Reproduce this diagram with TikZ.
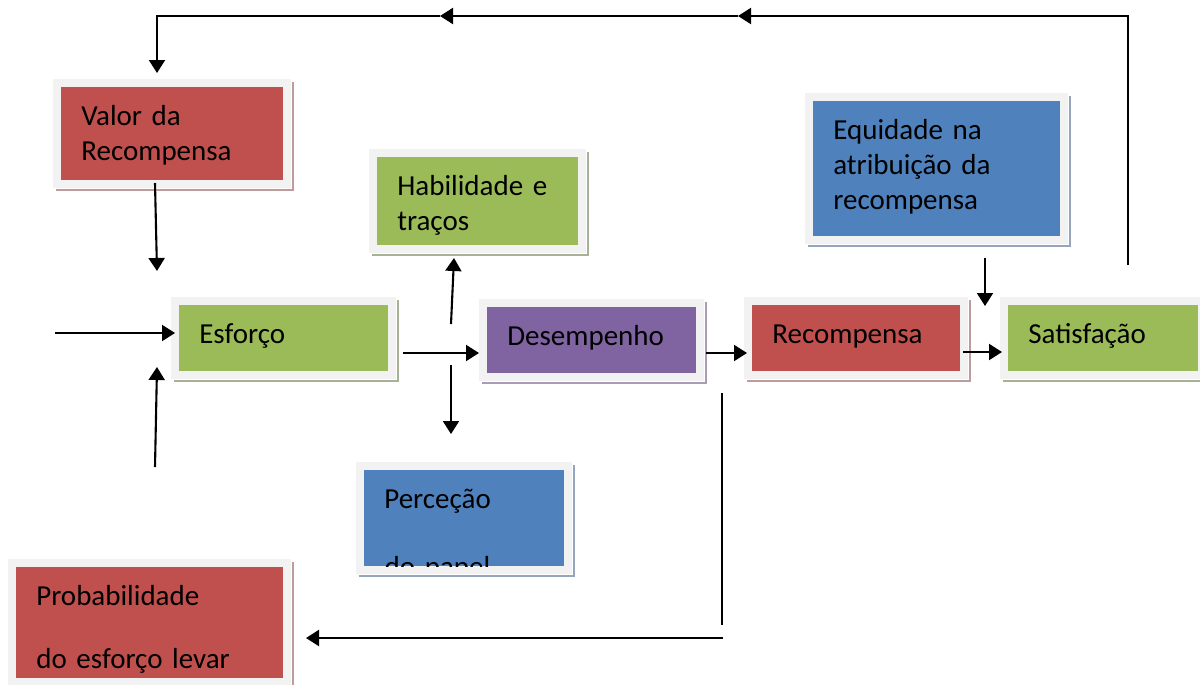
\documentclass[tikz,border=0pt]{standalone}
\usepackage{fontspec}
\setmainfont{Carlito}
\usepackage{xcolor}
\usepackage{tikz}
\usetikzlibrary{arrows.meta}

\definecolor{boxred}{HTML}{C0504D}
\definecolor{boxgreen}{HTML}{9BBB59}
\definecolor{boxblue}{HTML}{4F81BD}
\definecolor{boxpurple}{HTML}{8064A2}
\definecolor{framec}{HTML}{F2F2F2}
\definecolor{shadered}{HTML}{BE9C9C}
\definecolor{shadegreen}{HTML}{A8B096}
\definecolor{shadeblue}{HTML}{96A5BC}
\definecolor{shadepurple}{HTML}{AA9CB6}

\newcommand{\boxfont}{\fontsize{16.5}{20}\selectfont}
\newcommand{\boxfontwide}{\fontsize{16.5}{35.8}\selectfont}

\begin{document}
\begin{tikzpicture}[
      x=0.02cm, y=-0.02cm,
      box/.style 2 args={anchor=north west, fill=#1, inner xsep=0.4cm, inner ysep=0pt,
                  align=left, font=\boxfont, text height=0.76cm,
                  preaction={draw=#2, fill=#2, line width=0.32cm,
                             transform canvas={shift={(0.06cm,-0.06cm)}}},
                  preaction={draw=white, line width=0.36cm},
                  preaction={draw=framec, line width=0.32cm}},
      redbox/.style={box={boxred}{shadered}},
      greenbox/.style={box={boxgreen}{shadegreen}},
      bluebox/.style={box={boxblue}{shadeblue}},
      purplebox/.style={box={boxpurple}{shadepurple}},
      arrow/.style={-{Triangle[length=0.26cm, width=0.32cm]}, line width=0.042cm},
      line/.style={line width=0.042cm},
    ]
    \useasboundingbox (0,0) rectangle (1200,684);
    \clip (0,0) rectangle (1200,684);
    \fill[white] (0,0) rectangle (1200,684);

    \node[redbox, text width=3.64cm, text depth=1.10cm]    (valor) at (61,87)    {Valor da\\Recompensa};
    \node[greenbox, text width=3.22cm, text depth=1.0cm]   (hab)   at (377,157)  {Habilidade e\\traços};
    \node[bluebox, text width=4.14cm, text depth=1.94cm]   (equi)  at (813,101)  {Equidade na\\atribuição da\\recompensa};
    \node[greenbox, text width=3.38cm, text depth=0.56cm]  (esf)   at (179,305)  {Esforço};
    \node[purplebox, text width=3.38cm, text depth=0.56cm] (des)   at (487,307)  {Desempenho};
    \node[redbox, text width=3.36cm, text depth=0.56cm]    (rec)   at (752,305)  {Recompensa};
    \node[greenbox, text width=3.0cm, text depth=0.56cm]   (sat)   at (1008,305) {Satisfação};
    \node[bluebox, text width=3.2cm, text depth=1.16cm,
          path picture={\node[anchor=base west, inner sep=0pt, font=\boxfont]
            at ([shift={(0.4cm,-2.13cm)}]path picture bounding box.north west) {do papel};}]
                                                           (perc)  at (364,470)  {Perceção};
    \node[redbox, text width=4.54cm, text depth=1.46cm, font=\boxfontwide]
                                                           (prob)  at (16,567)   {Probabilidade\\do esforço levar};

    \coordinate (satUp) at (1128,265);
    \coordinate (m1)    at (738,16);
    \coordinate (m2)    at (440,16);
    \coordinate (vIn)   at (157,73);
    \coordinate (v1)    at (155,183);
    \coordinate (v2)    at (157,271);
    \coordinate (inL)   at (55,333);
    \coordinate (u1)    at (155,467);
    \coordinate (u2)    at (157,367);
    \coordinate (e1)    at (403,353);
    \coordinate (h1)    at (451,324);
    \coordinate (h2)    at (454,258);
    \coordinate (p1)    at (451,365);
    \coordinate (p2)    at (451,434);
    \coordinate (d1)    at (706,353);
    \coordinate (r1)    at (963,352);
    \coordinate (q1)    at (985,258);
    \coordinate (q2)    at (985,306);
    \coordinate (f1)    at (722,393);
    \coordinate (f2)    at (722,625);
    \coordinate (f3)    at (723,638);
    \coordinate (f4)    at (306,638);

    \draw[arrow] (satUp) |- (m1);
    \draw[arrow] (m1) -- (m2);
    \draw[arrow] (m2) -| (vIn);
    \draw[arrow] (v1) -- (v2);
    \draw[arrow, shorten >=0.08cm] (inL) -- (inL -| esf.west);
    \draw[arrow] (u1) -- (u2);
    \draw[arrow, shorten >=0.16cm] (e1) -- (e1 -| des.west);
    \draw[arrow] (h1) -- (h2);
    \draw[arrow] (p1) -- (p2);
    \draw[arrow, shorten >=0.1cm] (d1) -- (d1 -| rec.west);
    \draw[arrow, shorten >=0.12cm] (r1) -- (r1 -| sat.west);
    \draw[arrow] (q1) -- (q2);
    \draw[line] (f1) -- (f2);
    \draw[arrow] (f3) -- (f4);
  \end{tikzpicture}
\end{document}
